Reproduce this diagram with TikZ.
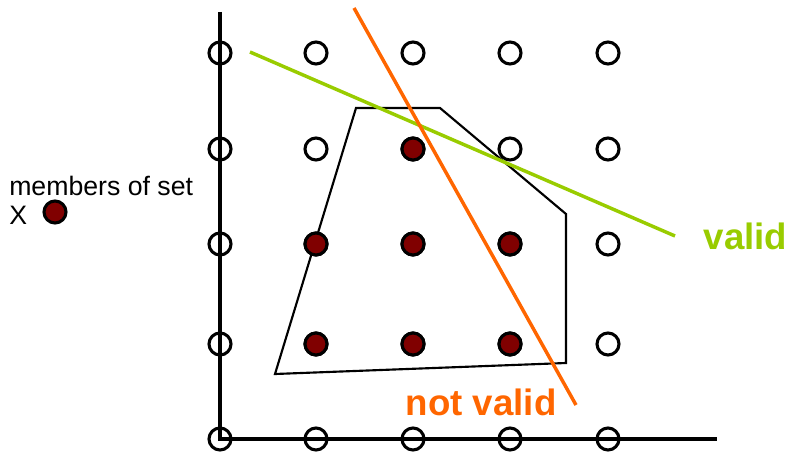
\documentclass[tikz,border=0pt]{standalone}
\usepackage{fontspec}
\setmainfont{Liberation Sans}
\begin{document}
\begin{tikzpicture}[x=0.75pt,y=-0.75pt,
  pt/.style={circle,draw=black,line width=2.3pt,minimum size=16.5pt,inner sep=0pt},
  mem/.style={pt,fill=red!50!black},
  lbl/.style={font=\fontsize{27.5}{31}\selectfont\bfseries}]
\useasboundingbox (0,0) rectangle (791,456);
% axes
\coordinate (ytop) at (220,12);
\coordinate (orig) at (220,439);
\coordinate (xend) at (717,439);
\draw[line width=2.3pt] (ytop) -- (orig) -- (xend);
% grid points
\foreach \c/\cx in {0/220,1/316,2/413,3/510,4/608}{
  \foreach \r/\ry in {0/53,1/149,2/244,3/344,4/439}{
    \node[pt] (g\c\r) at (\cx,\ry) {};
  }
}
% polygon
\coordinate (p1) at (356,108);
\coordinate (p2) at (440,108);
\coordinate (p3) at (566,214);
\coordinate (p4) at (566,363);
\coordinate (p5) at (275,374);
\draw[line width=1.6pt] (p1) -- (p2) -- (p3) -- (p4) -- (p5) -- cycle;
% members
\foreach \c/\r in {2/1,1/2,2/2,3/2,1/3,2/3,3/3}{
  \node[mem] at (g\c\r) {};
}
% lines
\coordinate (ga) at (250,52);
\coordinate (gb) at (675,236);
\draw[line width=2.6pt,color={rgb,255:red,153;green,204;blue,0}] (ga) -- (gb);
\coordinate (oa) at (354,8);
\coordinate (ob) at (576,405);
\draw[line width=2.6pt,color={rgb,255:red,255;green,102;blue,0}] (oa) -- (ob);
% labels
\node[lbl,text={rgb,255:red,153;green,204;blue,0},anchor=west] (valid) at (699,236) {valid};
\node[lbl,text={rgb,255:red,255;green,102;blue,0},anchor=west] (notvalid) at (401,402) {not valid};
% legend
\node[font=\fontsize{20}{23}\selectfont,anchor=west,inner sep=0pt] (members) at (9,186) {members of set};
\node[font=\fontsize{20}{23}\selectfont,anchor=west,inner sep=0pt] (xlab) at (9,215) {X};
\node[mem] (legpt) at (55,212) {};
\end{tikzpicture}
\end{document}
